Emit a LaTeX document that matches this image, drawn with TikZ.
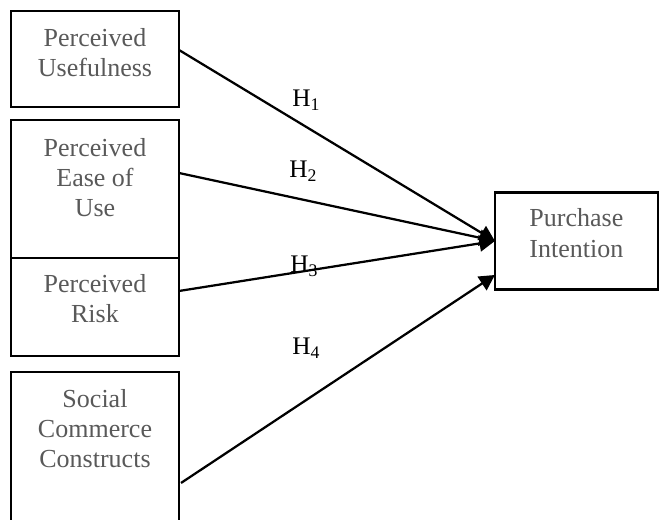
\documentclass[tikz,border=0pt]{standalone}
\usepackage{fontspec}
\setmainfont{Liberation Serif}
\usepackage{tikz}
\usetikzlibrary{arrows.meta, positioning}
\definecolor{boxgray}{RGB}{89,89,89}

\begin{document}
\begin{tikzpicture}[
        node distance=0.4cm,
        construct/.style={draw, line width=1.8pt, rectangle, outer sep=0pt, inner sep=0pt, minimum width=4.2cm},
        ctext/.style={inner sep=0pt, align=center, text=boxgray, font=\fontsize{18.5}{21.5}\selectfont},
        hyp/.style={inner sep=0pt, anchor=base west, font=\fontsize{18}{21}\selectfont},
        arrow/.style={-{Triangle[length=11pt, width=11.5pt]}, line width=1.6pt}
    ]
        \useasboundingbox (0,0) rectangle (16.5,13);
        % Nodes
        \node (pu) [construct, minimum height=2.4cm] at (2.375,11.525) {};
        \node (peou) [construct, minimum height=3.45cm, below=0.325cm of pu] {};
        \node (pr) [construct, minimum height=2.45cm, below=0cm of peou] {};
        \node (scc) [construct, minimum height=3.95cm, below=of pr] {};
        \node (pi) [construct, minimum width=4.075cm, minimum height=2.425cm] at (14.41,6.975) {};

        % Texts
        \node (pu-t) [ctext, below=0.42cm of pu.north] {Perceived\\Usefulness};
        \node (peou-t) [ctext, below=0.45cm of peou.north] {Perceived\\Ease of\\Use};
        \node (pr-t) [ctext, below=0.4cm of pr.north] {Perceived\\Risk};
        \node (scc-t) [ctext, below=0.42cm of scc.north] {Social\\Commerce\\Constructs};
        \node (pi-t) [ctext, below=0.4cm of pi.north] {Purchase\\Intention};

        % Paths
        \draw [arrow] ([yshift=0.225cm]pu.east) -- (pi.west);
        \draw [arrow] ([yshift=0.4cm]peou.east) -- (pi.west);
        \draw [arrow] ([yshift=0.4cm]pr.east) -- (pi.west);
        \draw [arrow] ([yshift=-0.8cm, xshift=0.05cm]scc.east) -- ([yshift=-0.85cm]pi.west);

        % Hypotheses
        \node (h1) [hyp] at (7.3,10.325) {H\textsubscript{1}};
        \node (h2) [hyp] at (7.225,8.55) {H\textsubscript{2}};
        \node (h3) [hyp] at (7.25,6.175) {H\textsubscript{3}};
        \node (h4) [hyp] at (7.3,4.125) {H\textsubscript{4}};
    \end{tikzpicture}
\end{document}
